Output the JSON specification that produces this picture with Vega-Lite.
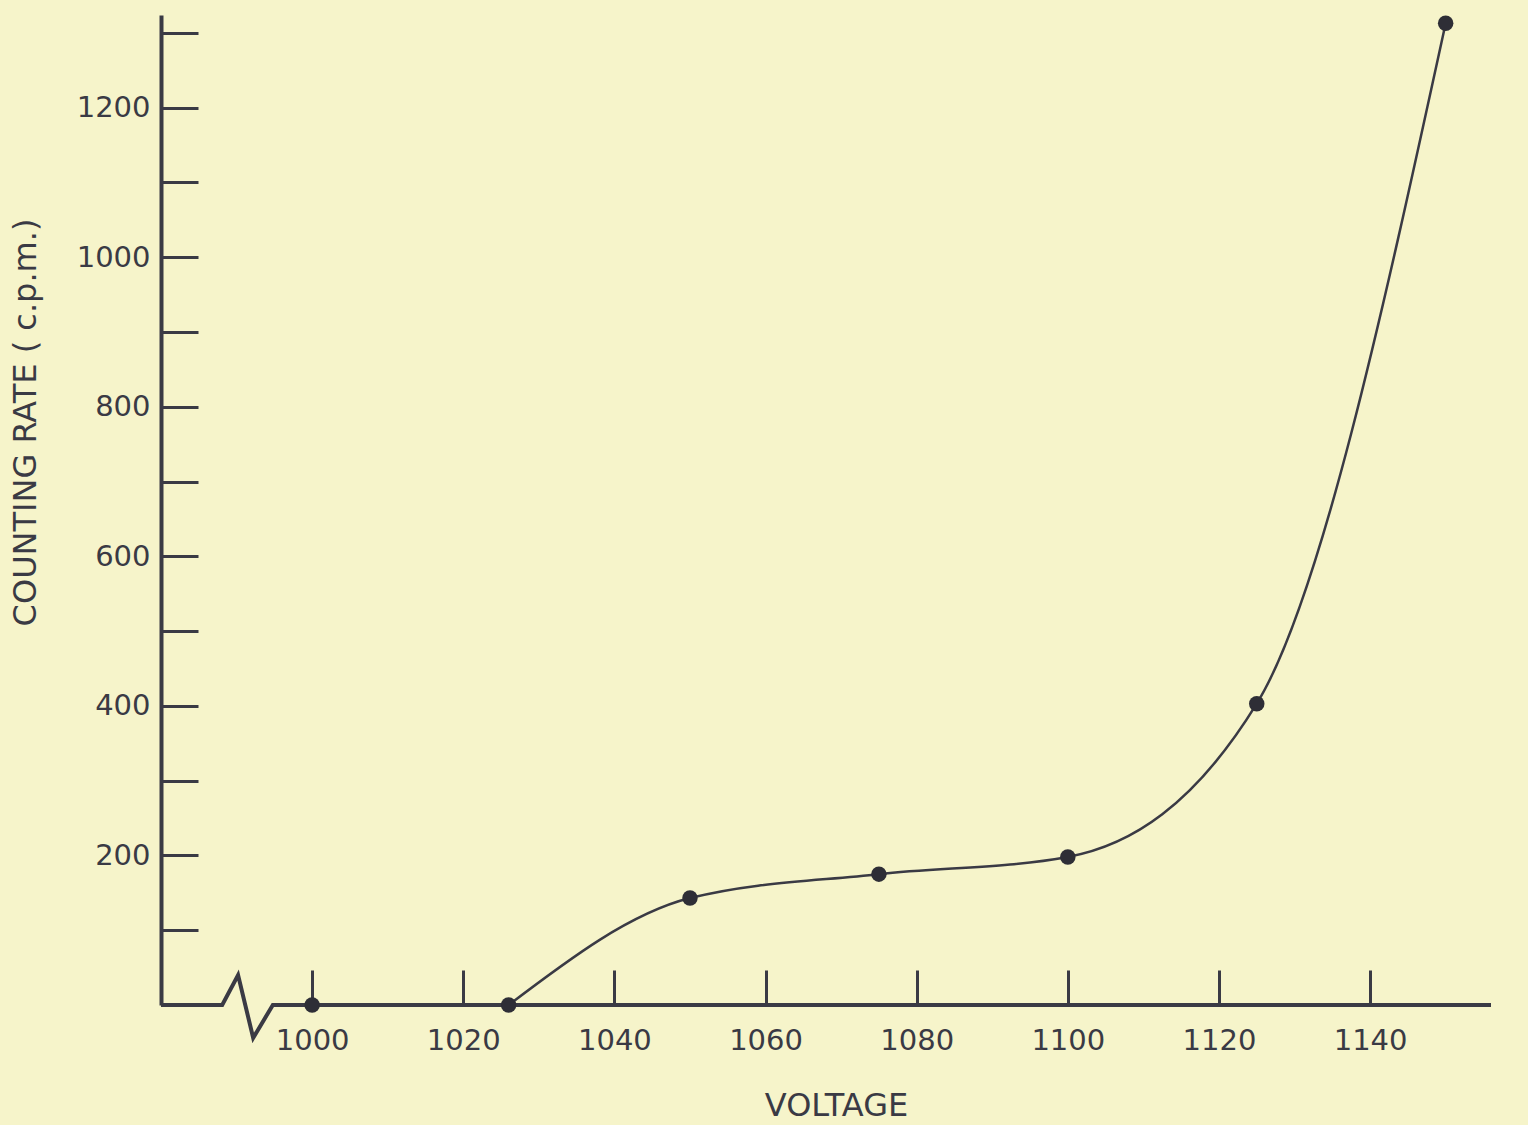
{
  "$schema": "https://vega.github.io/schema/vega-lite/v6.json",
  "width": 1330,
  "height": 990,
  "autosize": {"type": "none"},
  "padding": {"left": 161, "top": 15, "right": 37, "bottom": 120},
  "background": "#f6f4ca",
  "config": {
    "view": {"stroke": null},
    "axis": {"labelFont": "DejaVu Sans", "titleFont": "DejaVu Sans", "labelColor": "#3a3a44", "titleColor": "#3a3a44", "tickColor": "#3a3a44", "domainColor": "#3a3a44", "grid": false}
  },
  "datasets": {
    "points": [
      {"voltage": 1000, "rate": 0},
      {"voltage": 1026, "rate": 0},
      {"voltage": 1050, "rate": 143},
      {"voltage": 1075, "rate": 175},
      {"voltage": 1100, "rate": 198},
      {"voltage": 1125, "rate": 403},
      {"voltage": 1150, "rate": 1313}
    ],
    "baseline": [
      {"voltage": 980, "rate": 0, "o": 1},
      {"voltage": 988.1, "rate": 0, "o": 2},
      {"voltage": 990.2, "rate": 40, "o": 3},
      {"voltage": 992.2, "rate": -44, "o": 4},
      {"voltage": 994.8, "rate": 0, "o": 5},
      {"voltage": 1156, "rate": 0, "o": 6}
    ]
  },
  "encoding": {
    "x": {
      "field": "voltage", "type": "quantitative",
      "scale": {"domain": [980, 1156], "nice": false, "zero": false},
      "axis": {
        "title": "VOLTAGE", "titleFontSize": 32, "titleFontWeight": "normal",
        "titleX": 675, "titleY": 100, "titleBaseline": "middle",
        "values": [1000, 1020, 1040, 1060, 1080, 1100, 1120, 1140],
        "format": "d",
        "tickSize": -35, "tickWidth": 3, "domain": false,
        "labelFontSize": 29, "labelPadding": 56
      }
    },
    "y": {
      "field": "rate", "type": "quantitative",
      "scale": {"domain": [0, 1324], "nice": false},
      "axis": {
        "title": "COUNTING RATE ( c.p.m.)", "titleFontSize": 32, "titleFontWeight": "normal",
        "titleX": -136, "titleY": 407, "titleAngle": -90, "titleAlign": "center", "titleBaseline": "middle",
        "values": [100, 200, 300, 400, 500, 600, 700, 800, 900, 1000, 1100, 1200, 1300],
        "labelExpr": "datum.value % 200 == 0 ? datum.label : ''",
        "format": "d",
        "tickSize": -37, "tickWidth": 3, "domain": true, "domainWidth": 4,
        "labelFontSize": 29, "labelPadding": 48
      }
    }
  },
  "layer": [
    {
      "data": {"name": "baseline"},
      "mark": {"type": "line", "color": "#3a3a44", "strokeWidth": 4, "clip": false},
      "encoding": {"order": {"field": "o"}}
    },
    {
      "data": {"name": "points"},
      "transform": [{"filter": "datum.voltage >= 1026"}],
      "mark": {"type": "line", "color": "#3a3a44", "strokeWidth": 2.5, "interpolate": "monotone"}
    },
    {
      "data": {"name": "points"},
      "mark": {"type": "point", "filled": true, "color": "#2e2e36", "size": 240, "opacity": 1}
    }
  ]
}
